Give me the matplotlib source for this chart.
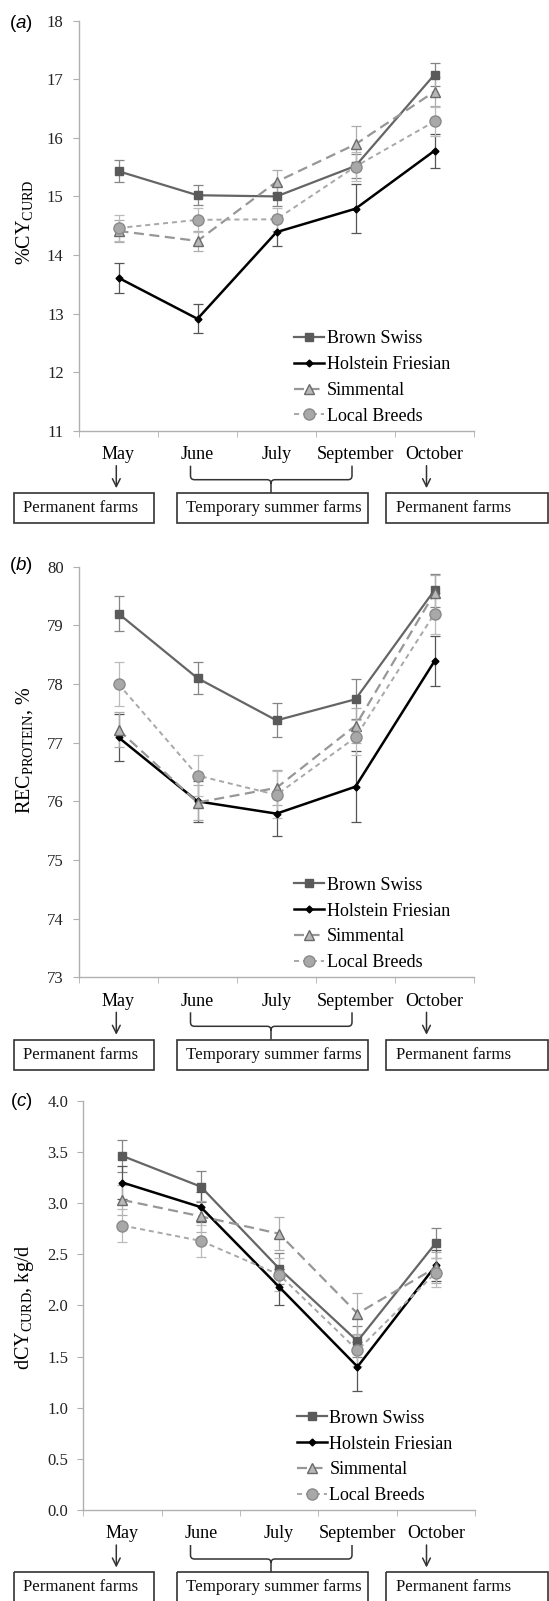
import matplotlib
matplotlib.use("Agg")
import matplotlib.pyplot as plt
from matplotlib.path import Path
from matplotlib.patches import PathPatch, Rectangle

plt.rcParams['font.family'] = ['Liberation Serif', 'DejaVu Serif']
plt.rcParams['mathtext.fontset'] = 'custom'
plt.rcParams['mathtext.rm'] = 'Liberation Serif'
plt.rcParams['mathtext.it'] = 'Liberation Sans:italic'
plt.rcParams['mathtext.sf'] = 'Liberation Sans'

months = ["May", "June", "July", "September", "October"]
breeds = ["Brown Swiss", "Holstein Friesian", "Simmental", "Local Breeds"]

# (a) %CY curd
bs_a = [15.43, 15.02, 15.00, 15.52, 17.08]
hf_a = [13.61, 12.91, 14.39, 14.79, 15.78]
sim_a = [14.41, 14.24, 15.25, 15.89, 16.79]
loc_a = [14.46, 14.60, 14.61, 15.51, 16.28]
bs_a_err = [0.19, 0.17, 0.17, 0.20, 0.19]
hf_a_err = [0.26, 0.25, 0.24, 0.42, 0.29]
sim_a_err = [0.18, 0.17, 0.20, 0.31, 0.25]
loc_a_err = [0.22, 0.20, 0.20, 0.25, 0.25]

# (b) REC protein
bs_b = [79.20, 78.10, 77.38, 77.74, 79.60]
hf_b = [77.09, 76.00, 75.79, 76.25, 78.39]
sim_b = [77.22, 75.98, 76.23, 77.29, 79.55]
loc_b = [78.00, 76.44, 76.11, 77.09, 79.20]
bs_b_err = [0.30, 0.27, 0.29, 0.34, 0.28]
hf_b_err = [0.40, 0.35, 0.38, 0.60, 0.43]
sim_b_err = [0.30, 0.30, 0.30, 0.30, 0.30]
loc_b_err = [0.37, 0.35, 0.40, 0.30, 0.35]

# (c) dCY curd
bs_c = [3.46, 3.16, 2.36, 1.65, 2.61]
hf_c = [3.20, 2.96, 2.18, 1.40, 2.39]
sim_c = [3.03, 2.87, 2.70, 1.92, 2.37]
loc_c = [2.78, 2.63, 2.30, 1.56, 2.32]
bs_c_err = [0.16, 0.15, 0.15, 0.15, 0.15]
hf_c_err = [0.16, 0.15, 0.18, 0.24, 0.15]
sim_c_err = [0.15, 0.15, 0.16, 0.20, 0.15]
loc_c_err = [0.16, 0.16, 0.16, 0.15, 0.14]

W, H = 549, 1601
fig = plt.figure(figsize=(W / 100, H / 100), dpi=100)

styles = [
    dict(color='#656565', lw=1.6, ls='-', marker='s', ms=5.5, mfc='#5a5a5a', mec='#5a5a5a'),
    dict(color='#000000', lw=1.8, ls='-', marker='D', ms=3.5, mfc='#000000', mec='#000000'),
    dict(color='#979797', lw=1.6, ls=(0, (4.5, 2.5)), marker='^', ms=6.5, mfc='#b8b8b8', mec='#6a6a6a'),
    dict(color='#a8a8a8', lw=1.4, ls=(0, (2.6, 2)), marker='o', ms=8, mfc='#a8a8a8', mec='#8a8a8a'),
]
err_colors = ['#858585', '#555555', '#adadad', '#bbbbbb']


def px_axes(left, top, right, bottom):
    return fig.add_axes([left / W, 1 - bottom / H, (right - left) / W, (bottom - top) / H])


def draw_panel(ax, series, errs, ylim, yticks, ylabels):
    x = [i + 0.5 for i in range(len(months))]
    for vals, err, st, ec, name in zip(series, errs, styles, err_colors, breeds):
        ax.errorbar(x, vals, yerr=err, fmt='none', ecolor=ec, elinewidth=0.9,
                    capsize=3.5, capthick=0.9, zorder=2)
        ax.plot(x, vals, label=name, zorder=3, **st)
    ax.set_xlim(0, len(months))
    ax.set_ylim(*ylim)
    ax.set_yticks(yticks)
    ax.set_yticklabels(ylabels)
    ax.set_xticks(x)
    ax.set_xticklabels(months)
    ax.set_xticks(range(len(months) + 1), minor=True)
    ax.tick_params(axis='x', which='major', length=0, pad=11, labelsize=13)
    ax.tick_params(axis='x', which='minor', length=4, color='#b0b0b0', direction='out')
    ax.tick_params(axis='y', length=4, color='#b0b0b0', pad=7, labelsize=12, labelcolor='#222222')
    for s in ['top', 'right']:
        ax.spines[s].set_visible(False)
    for s in ['left', 'bottom']:
        ax.spines[s].set_color('#b0b0b0')
        ax.spines[s].set_linewidth(1.0)
    ax.patch.set_alpha(0)
    leg = ax.legend(loc='upper left', bbox_to_anchor=(0.545, 0.245), frameon=False,
                    fontsize=13, borderpad=0, borderaxespad=0, labelspacing=0.49,
                    handlelength=1.66, handletextpad=0.15, numpoints=1)
    return leg


ax_a = px_axes(79, 20.7, 474, 430.7)
draw_panel(ax_a, [bs_a, hf_a, sim_a, loc_a], [bs_a_err, hf_a_err, sim_a_err, loc_a_err],
           (11, 18), range(11, 19), [str(v) for v in range(11, 19)])

ax_b = px_axes(79, 566.7, 474, 977.3)
draw_panel(ax_b, [bs_b, hf_b, sim_b, loc_b], [bs_b_err, hf_b_err, sim_b_err, loc_b_err],
           (73, 80), range(73, 81), [str(v) for v in range(73, 81)])

ax_c = px_axes(83.3, 1100.7, 475, 1510)
cticks = [i * 0.5 for i in range(9)]
draw_panel(ax_c, [bs_c, hf_c, sim_c, loc_c], [bs_c_err, hf_c_err, sim_c_err, loc_c_err],
           (0, 4), cticks, ["%.1f" % v for v in cticks])

# panel letters and y labels
for letter, yl, ylab, ylab_y in [("a", 24, r"%CY$_{\mathrm{CURD}}$", 222),
                                 ("b", 566, r"REC$_{\mathrm{PROTEIN}}$, %", 750),
                                 ("c", 1101, r"dCY$_{\mathrm{CURD}}$, kg/d", 1307)]:
    fig.text(21 / W, 1 - yl / H, r"$\mathsf{(}%s\mathsf{)}$" % letter, fontsize=13.5,
             ha='center', va='center')
    fig.text(25 / W, 1 - ylab_y / H, ylab, fontsize=14.5, rotation=90, ha='center', va='center')

# overlay in pixel coordinates for the farm-type annotations
ov = fig.add_axes([0, 0, 1, 1])
ov.set_xlim(0, W)
ov.set_ylim(H, 0)
ov.axis('off')

box_specs = [(13.5, 153.5, "Permanent farms"), (176.5, 368, "Temporary summer farms"),
             (386, 548, "Permanent farms")]
line_col = '#333333'

for y_ax in [430.7, 977.3, 1510]:
    yt, ym, yb = y_ax + 35, y_ax + 49, y_ax + 62.3
    for xa in [116.3, 426.5]:
        ov.annotate('', xy=(xa, y_ax + 57.5), xytext=(xa, yt),
                    arrowprops=dict(arrowstyle='->', lw=1.1, color=line_col,
                                    mutation_scale=14, shrinkA=0, shrinkB=0))
    x0, x1, xc, r = 190.5, 352, 271, 4
    verts = [(x0, yt), (x0, ym - r), (x0, ym), (x0 + r, ym), (xc - r, ym), (xc, ym), (xc, ym + r),
             (xc, yb), (xc, ym + r), (xc, ym), (xc + r, ym), (x1 - r, ym), (x1, ym), (x1, ym - r),
             (x1, yt)]
    codes = [Path.MOVETO, Path.LINETO, Path.CURVE3, Path.CURVE3, Path.LINETO, Path.CURVE3,
             Path.CURVE3, Path.LINETO, Path.MOVETO, Path.CURVE3, Path.CURVE3, Path.LINETO,
             Path.CURVE3, Path.CURVE3, Path.LINETO]
    ov.add_patch(PathPatch(Path(verts, codes), fill=False, lw=1.1, ec=line_col))
    for bx0, bx1, txt in box_specs:
        ov.add_patch(Rectangle((bx0, yb), bx1 - bx0, 30, fill=False, lw=1.2, ec=line_col,
                               clip_on=False))
        ov.text(bx0 + 9.5, yb + 15, txt, fontsize=12.2, ha='left', va='center', color='#111111')

fig.savefig("out.png", dpi=100)
